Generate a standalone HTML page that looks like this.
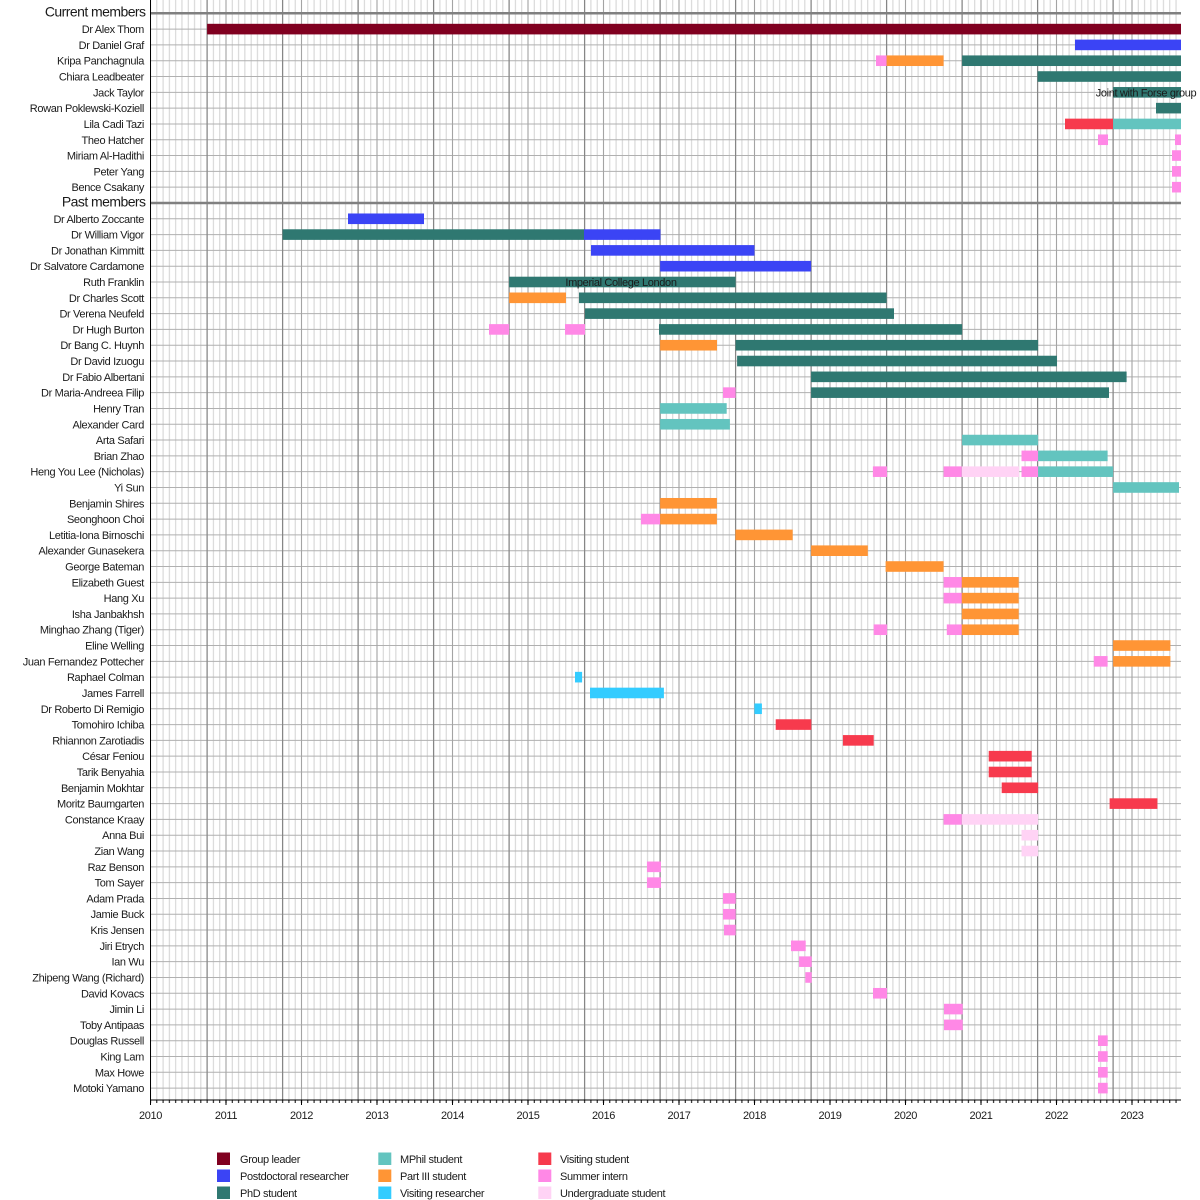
<!DOCTYPE html>
<html><head><meta charset="utf-8"><style>
html,body{margin:0;padding:0;background:#fff;}
svg{display:block;}
text{font-family:"Liberation Sans",Arial,sans-serif;fill:#1a1a1a;}
.n{font-size:11px;letter-spacing:-0.35px;text-anchor:end;}
.h{font-size:14px;letter-spacing:-0.55px;text-anchor:end;}
.t{font-size:11px;letter-spacing:-0.35px;text-anchor:middle;}
.l{font-size:11px;letter-spacing:-0.35px;}
.gl{fill:#800020}.pd{fill:#3b44f5}.ph{fill:#2f7871}.mp{fill:#63c4bf}.p3{fill:#ff9535}.vr{fill:#33ccff}.vs{fill:#f73a4d}.si{fill:#ff88e6}.ug{fill:#ffd3f5}
</style></head><body>
<svg width="1200" height="1200" viewBox="0 0 1200 1200" xmlns="http://www.w3.org/2000/svg">
<defs>
<pattern id="mv" x="147.354" y="0" width="6.29167" height="1100" patternUnits="userSpaceOnUse">
<line x1="3.146" y1="0" x2="3.146" y2="1100" stroke="#d2d2d2" stroke-width="1"/>
</pattern>
<pattern id="mt" x="147.354" y="0" width="6.29167" height="1200" patternUnits="userSpaceOnUse">
<line x1="3.146" y1="0" x2="3.146" y2="1200" stroke="#000" stroke-width="1"/>
</pattern>
</defs>
<rect x="150.5" y="0" width="1030.5" height="1100" fill="url(#mv)"/>
<path stroke="#b0b0b0" stroke-width="1" fill="none" d="M150.5 29.11H1181M150.5 44.91H1181M150.5 60.72H1181M150.5 76.52H1181M150.5 92.33H1181M150.5 108.14H1181M150.5 123.94H1181M150.5 139.75H1181M150.5 155.55H1181M150.5 171.36H1181M150.5 187.17H1181M150.5 218.78H1181M150.5 234.58H1181M150.5 250.39H1181M150.5 266.2H1181M150.5 282H1181M150.5 297.81H1181M150.5 313.61H1181M150.5 329.42H1181M150.5 345.23H1181M150.5 361.03H1181M150.5 376.84H1181M150.5 392.64H1181M150.5 408.45H1181M150.5 424.26H1181M150.5 440.06H1181M150.5 455.87H1181M150.5 471.67H1181M150.5 487.48H1181M150.5 503.29H1181M150.5 519.09H1181M150.5 534.9H1181M150.5 550.7H1181M150.5 566.51H1181M150.5 582.32H1181M150.5 598.12H1181M150.5 613.93H1181M150.5 629.73H1181M150.5 645.54H1181M150.5 661.35H1181M150.5 677.15H1181M150.5 692.96H1181M150.5 708.76H1181M150.5 724.57H1181M150.5 740.38H1181M150.5 756.18H1181M150.5 771.99H1181M150.5 787.79H1181M150.5 803.6H1181M150.5 819.41H1181M150.5 835.21H1181M150.5 851.02H1181M150.5 866.82H1181M150.5 882.63H1181M150.5 898.44H1181M150.5 914.24H1181M150.5 930.05H1181M150.5 945.85H1181M150.5 961.66H1181M150.5 977.47H1181M150.5 993.27H1181M150.5 1009.08H1181M150.5 1024.88H1181M150.5 1040.69H1181M150.5 1056.5H1181M150.5 1072.3H1181M150.5 1088.11H1181"/>
<path stroke="#a4a4a4" stroke-width="1" fill="none" d="M226 0V1100M301.5 0V1100M377 0V1100M452.5 0V1100M528 0V1100M603.5 0V1100M679 0V1100M754.5 0V1100M830 0V1100M905.5 0V1100M981 0V1100M1056.5 0V1100M1132 0V1100"/>
<path stroke="#868686" stroke-width="1.2" fill="none" d="M207.1 0V1100M282.6 0V1100M358.1 0V1100M433.6 0V1100M509.1 0V1100M584.6 0V1100M660.1 0V1100M735.6 0V1100M811.1 0V1100M886.6 0V1100M962.1 0V1100M1037.6 0V1100M1113.1 0V1100"/>
<path stroke="#808080" stroke-width="2.5" fill="none" d="M150.5 13.3H1181M150.5 202.97H1181"/>

<text class="h" x="145.5" y="16.5">Current members</text>
<text class="h" x="145.5" y="206.6">Past members</text>

<g transform="translate(0,29.11)"><text class="n" x="144" y="4">Dr Alex Thom</text><rect class="gl" x="207.1" y="-5.3" width="973.9" height="10.6"/></g>
<g transform="translate(0,44.91)"><text class="n" x="144" y="4">Dr Daniel Graf</text><rect class="pd" x="1075" y="-5.3" width="106" height="10.6"/></g>
<g transform="translate(0,60.72)"><text class="n" x="144" y="4">Kripa Panchagnula</text><rect class="si" x="876" y="-5.3" width="10.6" height="10.6"/><rect class="p3" x="886.6" y="-5.3" width="57" height="10.6"/><rect class="ph" x="962.1" y="-5.3" width="218.9" height="10.6"/></g>
<g transform="translate(0,76.52)"><text class="n" x="144" y="4">Chiara Leadbeater</text><rect class="ph" x="1037.6" y="-5.3" width="143.4" height="10.6"/></g>
<g transform="translate(0,92.33)"><text class="n" x="144" y="4">Jack Taylor</text><rect class="ph" x="1113.1" y="-5.3" width="67.9" height="10.6"/><text class="t" x="1146" y="4">Joint with Forse group</text></g>
<g transform="translate(0,108.14)"><text class="n" x="144" y="4">Rowan Poklewski-Koziell</text><rect class="ph" x="1156" y="-5.3" width="25" height="10.6"/></g>
<g transform="translate(0,123.94)"><text class="n" x="144" y="4">Lila Cadi Tazi</text><rect class="vs" x="1065" y="-5.3" width="48.1" height="10.6"/><rect class="mp" x="1113.1" y="-5.3" width="67.9" height="10.6"/></g>
<g transform="translate(0,139.75)"><text class="n" x="144" y="4">Theo Hatcher</text><rect class="si" x="1098" y="-5.3" width="10" height="10.6"/><rect class="si" x="1175" y="-5.3" width="6" height="10.6"/></g>
<g transform="translate(0,155.55)"><text class="n" x="144" y="4">Miriam Al-Hadithi</text><rect class="si" x="1172" y="-5.3" width="9" height="10.6"/></g>
<g transform="translate(0,171.36)"><text class="n" x="144" y="4">Peter Yang</text><rect class="si" x="1172" y="-5.3" width="9" height="10.6"/></g>
<g transform="translate(0,187.17)"><text class="n" x="144" y="4">Bence Csakany</text><rect class="si" x="1172" y="-5.3" width="9" height="10.6"/></g>

<g transform="translate(0,218.78)"><text class="n" x="144" y="4">Dr Alberto Zoccante</text><rect class="pd" x="348" y="-5.3" width="76" height="10.6"/></g>
<g transform="translate(0,234.58)"><text class="n" x="144" y="4">Dr William Vigor</text><rect class="ph" x="282.6" y="-5.3" width="301.4" height="10.6"/><rect class="pd" x="584" y="-5.3" width="76.5" height="10.6"/></g>
<g transform="translate(0,250.39)"><text class="n" x="144" y="4">Dr Jonathan Kimmitt</text><rect class="pd" x="591" y="-5.3" width="163.5" height="10.6"/></g>
<g transform="translate(0,266.2)"><text class="n" x="144" y="4">Dr Salvatore Cardamone</text><rect class="pd" x="660.1" y="-5.3" width="151" height="10.6"/></g>
<g transform="translate(0,282)"><text class="n" x="144" y="4">Ruth Franklin</text><rect class="ph" x="509.1" y="-5.3" width="226.5" height="10.6"/><text class="t" x="621" y="4">Imperial College London</text></g>
<g transform="translate(0,297.81)"><text class="n" x="144" y="4">Dr Charles Scott</text><rect class="p3" x="509.1" y="-5.3" width="56.9" height="10.6"/><rect class="ph" x="579" y="-5.3" width="307.6" height="10.6"/></g>
<g transform="translate(0,313.61)"><text class="n" x="144" y="4">Dr Verena Neufeld</text><rect class="ph" x="585" y="-5.3" width="309" height="10.6"/></g>
<g transform="translate(0,329.42)"><text class="n" x="144" y="4">Dr Hugh Burton</text><rect class="si" x="489" y="-5.3" width="20.1" height="10.6"/><rect class="si" x="565" y="-5.3" width="20" height="10.6"/><rect class="ph" x="659" y="-5.3" width="303.1" height="10.6"/></g>
<g transform="translate(0,345.23)"><text class="n" x="144" y="4">Dr Bang C. Huynh</text><rect class="p3" x="660.1" y="-5.3" width="56.9" height="10.6"/><rect class="ph" x="735.6" y="-5.3" width="302.5" height="10.6"/></g>
<g transform="translate(0,361.03)"><text class="n" x="144" y="4">Dr David Izuogu</text><rect class="ph" x="737.1" y="-5.3" width="319.9" height="10.6"/></g>
<g transform="translate(0,376.84)"><text class="n" x="144" y="4">Dr Fabio Albertani</text><rect class="ph" x="811.1" y="-5.3" width="315.5" height="10.6"/></g>
<g transform="translate(0,392.64)"><text class="n" x="144" y="4">Dr Maria-Andreea Filip</text><rect class="si" x="723" y="-5.3" width="12.6" height="10.6"/><rect class="ph" x="811.1" y="-5.3" width="297.9" height="10.6"/></g>
<g transform="translate(0,408.45)"><text class="n" x="144" y="4">Henry Tran</text><rect class="mp" x="660.1" y="-5.3" width="66.6" height="10.6"/></g>
<g transform="translate(0,424.26)"><text class="n" x="144" y="4">Alexander Card</text><rect class="mp" x="660.1" y="-5.3" width="69.8" height="10.6"/></g>
<g transform="translate(0,440.06)"><text class="n" x="144" y="4">Arta Safari</text><rect class="mp" x="962.1" y="-5.3" width="76" height="10.6"/></g>
<g transform="translate(0,455.87)"><text class="n" x="144" y="4">Brian Zhao</text><rect class="si" x="1021.5" y="-5.3" width="16.6" height="10.6"/><rect class="mp" x="1038.1" y="-5.3" width="69.5" height="10.6"/></g>
<g transform="translate(0,471.67)"><text class="n" x="144" y="4">Heng You Lee (Nicholas)</text><rect class="si" x="872.9" y="-5.3" width="14.1" height="10.6"/><rect class="si" x="943.6" y="-5.3" width="18.2" height="10.6"/><rect class="ug" x="961.8" y="-5.3" width="57.3" height="10.6"/><rect class="si" x="1021.5" y="-5.3" width="16.6" height="10.6"/><rect class="mp" x="1038.1" y="-5.3" width="75" height="10.6"/></g>
<g transform="translate(0,487.48)"><text class="n" x="144" y="4">Yi Sun</text><rect class="mp" x="1113.1" y="-5.3" width="65.9" height="10.6"/></g>
<g transform="translate(0,503.29)"><text class="n" x="144" y="4">Benjamin Shires</text><rect class="p3" x="660.1" y="-5.3" width="56.8" height="10.6"/></g>
<g transform="translate(0,519.09)"><text class="n" x="144" y="4">Seonghoon Choi</text><rect class="si" x="641" y="-5.3" width="19.1" height="10.6"/><rect class="p3" x="660.1" y="-5.3" width="56.8" height="10.6"/></g>
<g transform="translate(0,534.9)"><text class="n" x="144" y="4">Letitia-Iona Birnoschi</text><rect class="p3" x="735.4" y="-5.3" width="57.3" height="10.6"/></g>
<g transform="translate(0,550.7)"><text class="n" x="144" y="4">Alexander Gunasekera</text><rect class="p3" x="811.1" y="-5.3" width="56.7" height="10.6"/></g>
<g transform="translate(0,566.51)"><text class="n" x="144" y="4">George Bateman</text><rect class="p3" x="885.6" y="-5.3" width="58" height="10.6"/></g>
<g transform="translate(0,582.32)"><text class="n" x="144" y="4">Elizabeth Guest</text><rect class="si" x="943.6" y="-5.3" width="18.2" height="10.6"/><rect class="p3" x="961.8" y="-5.3" width="56.9" height="10.6"/></g>
<g transform="translate(0,598.12)"><text class="n" x="144" y="4">Hang Xu</text><rect class="si" x="943.6" y="-5.3" width="18.2" height="10.6"/><rect class="p3" x="961.8" y="-5.3" width="56.9" height="10.6"/></g>
<g transform="translate(0,613.93)"><text class="n" x="144" y="4">Isha Janbakhsh</text><rect class="p3" x="961.8" y="-5.3" width="56.9" height="10.6"/></g>
<g transform="translate(0,629.73)"><text class="n" x="144" y="4">Minghao Zhang (Tiger)</text><rect class="si" x="873.7" y="-5.3" width="13.4" height="10.6"/><rect class="si" x="946.8" y="-5.3" width="15" height="10.6"/><rect class="p3" x="961.8" y="-5.3" width="56.9" height="10.6"/></g>
<g transform="translate(0,645.54)"><text class="n" x="144" y="4">Eline Welling</text><rect class="p3" x="1113.1" y="-5.3" width="57.3" height="10.6"/></g>
<g transform="translate(0,661.35)"><text class="n" x="144" y="4">Juan Fernandez Pottecher</text><rect class="si" x="1093.8" y="-5.3" width="13.8" height="10.6"/><rect class="p3" x="1113.1" y="-5.3" width="57.3" height="10.6"/></g>
<g transform="translate(0,677.15)"><text class="n" x="144" y="4">Raphael Colman</text><rect class="vr" x="575" y="-5.3" width="7.1" height="10.6"/></g>
<g transform="translate(0,692.96)"><text class="n" x="144" y="4">James Farrell</text><rect class="vr" x="590" y="-5.3" width="73.9" height="10.6"/></g>
<g transform="translate(0,708.76)"><text class="n" x="144" y="4">Dr Roberto Di Remigio</text><rect class="vr" x="754.4" y="-5.3" width="7.5" height="10.6"/></g>
<g transform="translate(0,724.57)"><text class="n" x="144" y="4">Tomohiro Ichiba</text><rect class="vs" x="775.7" y="-5.3" width="35.6" height="10.6"/></g>
<g transform="translate(0,740.38)"><text class="n" x="144" y="4">Rhiannon Zarotiadis</text><rect class="vs" x="842.9" y="-5.3" width="30.8" height="10.6"/></g>
<g transform="translate(0,756.18)"><text class="n" x="144" y="4">César Feniou</text><rect class="vs" x="988.7" y="-5.3" width="43" height="10.6"/></g>
<g transform="translate(0,771.99)"><text class="n" x="144" y="4">Tarik Benyahia</text><rect class="vs" x="988.7" y="-5.3" width="43" height="10.6"/></g>
<g transform="translate(0,787.79)"><text class="n" x="144" y="4">Benjamin Mokhtar</text><rect class="vs" x="1001.7" y="-5.3" width="36.4" height="10.6"/></g>
<g transform="translate(0,803.6)"><text class="n" x="144" y="4">Moritz Baumgarten</text><rect class="vs" x="1109.6" y="-5.3" width="47.8" height="10.6"/></g>
<g transform="translate(0,819.41)"><text class="n" x="144" y="4">Constance Kraay</text><rect class="si" x="943.6" y="-5.3" width="18.2" height="10.6"/><rect class="ug" x="961.8" y="-5.3" width="76.3" height="10.6"/></g>
<g transform="translate(0,835.21)"><text class="n" x="144" y="4">Anna Bui</text><rect class="ug" x="1021.5" y="-5.3" width="16.6" height="10.6"/></g>
<g transform="translate(0,851.02)"><text class="n" x="144" y="4">Zian Wang</text><rect class="ug" x="1021.5" y="-5.3" width="16.6" height="10.6"/></g>
<g transform="translate(0,866.82)"><text class="n" x="144" y="4">Raz Benson</text><rect class="si" x="647" y="-5.3" width="14" height="10.6"/></g>
<g transform="translate(0,882.63)"><text class="n" x="144" y="4">Tom Sayer</text><rect class="si" x="647" y="-5.3" width="14" height="10.6"/></g>
<g transform="translate(0,898.44)"><text class="n" x="144" y="4">Adam Prada</text><rect class="si" x="723" y="-5.3" width="12.7" height="10.6"/></g>
<g transform="translate(0,914.24)"><text class="n" x="144" y="4">Jamie Buck</text><rect class="si" x="723" y="-5.3" width="12.7" height="10.6"/></g>
<g transform="translate(0,930.05)"><text class="n" x="144" y="4">Kris Jensen</text><rect class="si" x="724" y="-5.3" width="11.7" height="10.6"/></g>
<g transform="translate(0,945.85)"><text class="n" x="144" y="4">Jiri Etrych</text><rect class="si" x="791" y="-5.3" width="14.7" height="10.6"/></g>
<g transform="translate(0,961.66)"><text class="n" x="144" y="4">Ian Wu</text><rect class="si" x="799" y="-5.3" width="12.7" height="10.6"/></g>
<g transform="translate(0,977.47)"><text class="n" x="144" y="4">Zhipeng Wang (Richard)</text><rect class="si" x="805.3" y="-5.3" width="6.4" height="10.6"/></g>
<g transform="translate(0,993.27)"><text class="n" x="144" y="4">David Kovacs</text><rect class="si" x="873" y="-5.3" width="14" height="10.6"/></g>
<g transform="translate(0,1009.08)"><text class="n" x="144" y="4">Jimin Li</text><rect class="si" x="944" y="-5.3" width="18.7" height="10.6"/></g>
<g transform="translate(0,1024.88)"><text class="n" x="144" y="4">Toby Antipaas</text><rect class="si" x="944" y="-5.3" width="18.7" height="10.6"/></g>
<g transform="translate(0,1040.69)"><text class="n" x="144" y="4">Douglas Russell</text><rect class="si" x="1098" y="-5.3" width="9.7" height="10.6"/></g>
<g transform="translate(0,1056.5)"><text class="n" x="144" y="4">King Lam</text><rect class="si" x="1098" y="-5.3" width="9.7" height="10.6"/></g>
<g transform="translate(0,1072.3)"><text class="n" x="144" y="4">Max Howe</text><rect class="si" x="1098" y="-5.3" width="9.7" height="10.6"/></g>
<g transform="translate(0,1088.11)"><text class="n" x="144" y="4">Motoki Yamano</text><rect class="si" x="1098" y="-5.3" width="9.7" height="10.6"/></g>

<!-- axes -->
<line x1="150.5" y1="0" x2="150.5" y2="1100.5" stroke="#000" stroke-width="1"/>
<line x1="150" y1="1100" x2="1181" y2="1100" stroke="#000" stroke-width="1"/>
<rect x="150" y="1100" width="1030" height="3" fill="url(#mt)"/>
<path stroke="#000" stroke-width="1" fill="none" d="M150.5 1100V1105M226 1100V1105M301.5 1100V1105M377 1100V1105M452.5 1100V1105M528 1100V1105M603.5 1100V1105M679 1100V1105M754.5 1100V1105M830 1100V1105M905.5 1100V1105M981 1100V1105M1056.5 1100V1105M1132 1100V1105"/>
<text class="t" x="150.5" y="1119">2010</text>
<text class="t" x="226" y="1119">2011</text>
<text class="t" x="301.5" y="1119">2012</text>
<text class="t" x="377" y="1119">2013</text>
<text class="t" x="452.5" y="1119">2014</text>
<text class="t" x="528" y="1119">2015</text>
<text class="t" x="603.5" y="1119">2016</text>
<text class="t" x="679" y="1119">2017</text>
<text class="t" x="754.5" y="1119">2018</text>
<text class="t" x="830" y="1119">2019</text>
<text class="t" x="905.5" y="1119">2020</text>
<text class="t" x="981" y="1119">2021</text>
<text class="t" x="1056.5" y="1119">2022</text>
<text class="t" x="1132" y="1119">2023</text>

<!-- legend -->
<rect class="gl" x="217" y="1152.5" width="13" height="12.5"/><text class="l" x="240" y="1163">Group leader</text>
<rect class="pd" x="217" y="1169.5" width="13" height="12.5"/><text class="l" x="240" y="1180">Postdoctoral researcher</text>
<rect class="ph" x="217" y="1186.5" width="13" height="12.5"/><text class="l" x="240" y="1197">PhD student</text>
<rect class="mp" x="378.3" y="1152.5" width="13" height="12.5"/><text class="l" x="400" y="1163">MPhil student</text>
<rect class="p3" x="378.3" y="1169.5" width="13" height="12.5"/><text class="l" x="400" y="1180">Part III student</text>
<rect class="vr" x="378.3" y="1186.5" width="13" height="12.5"/><text class="l" x="400" y="1197">Visiting researcher</text>
<rect class="vs" x="538.3" y="1152.5" width="13" height="12.5"/><text class="l" x="560" y="1163">Visiting student</text>
<rect class="si" x="538.3" y="1169.5" width="13" height="12.5"/><text class="l" x="560" y="1180">Summer intern</text>
<rect class="ug" x="538.3" y="1186.5" width="13" height="12.5"/><text class="l" x="560" y="1197">Undergraduate student</text>
</svg>
</body></html>
